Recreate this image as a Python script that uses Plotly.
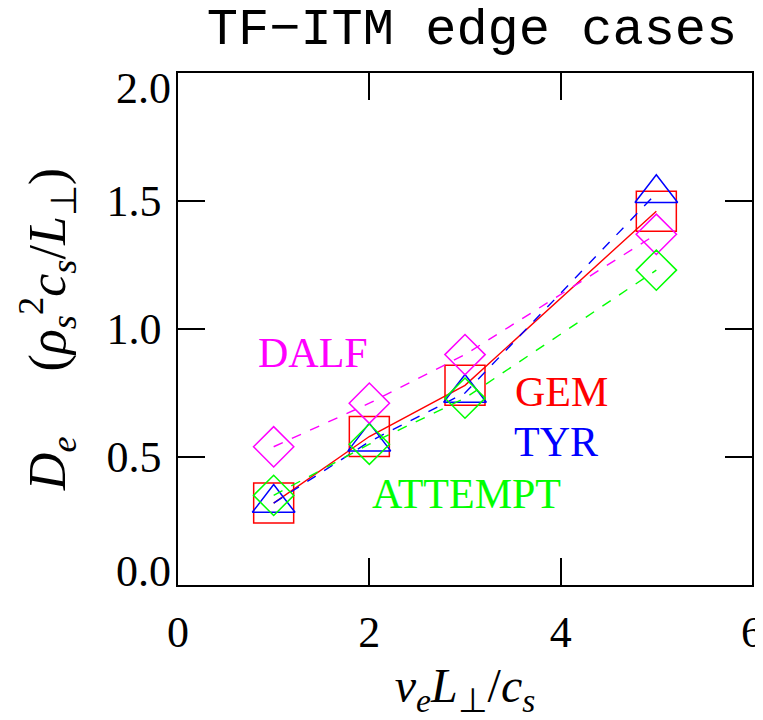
import plotly.graph_objects as go

# ---- data ----
nu = [1, 2, 3, 5]
gem = [0.32, 0.58, 0.78, 1.46]
tyr = [0.32, 0.56, 0.75, 1.53]
dalf = [0.54, 0.71, 0.90, 1.37]
attempt = [0.35, 0.55, 0.73, 1.23]

x_ticks = [0, 2, 4, 6]
y_ticks_mid = [0.5, 1.0, 1.5]
y_tick_low = [0.0]
y_tick_high = [2.0]

labels = ["DALF", "GEM", "TYR", "ATTEMPT"]
label_x = [0.82, 3.50, 3.49, 2.01]
label_y = [0.905, 0.755, 0.56, 0.355]

RED, BLUE, MAG, GRN = "#ff0000", "#0000ff", "#ff00ff", "#00ff00"
SERIF = "Liberation Serif"

fig = go.Figure()

fig.add_trace(go.Scatter(x=nu, y=gem, mode="lines+markers", name="GEM",
                         line=dict(color=RED, width=1.4),
                         marker=dict(symbol="square-open", size=40, color=RED,
                                     line=dict(color=RED, width=1.5))))
fig.add_trace(go.Scatter(x=nu, y=tyr, mode="lines+markers", name="TYR",
                         line=dict(color=BLUE, width=1.4, dash="10px,10px"),
                         marker=dict(symbol="triangle-up-open", size=37, color=BLUE,
                                     line=dict(color=BLUE, width=1.5))))
fig.add_trace(go.Scatter(x=nu, y=dalf, mode="lines+markers", name="DALF", yaxis="y2",
                         line=dict(color=MAG, width=1.4, dash="10px,10px"),
                         marker=dict(symbol="diamond-open", size=31, color=MAG,
                                     line=dict(color=MAG, width=1.5))))
fig.add_trace(go.Scatter(x=nu, y=attempt, mode="lines+markers", name="ATTEMPT", yaxis="y3",
                         line=dict(color=GRN, width=1.4, dash="10px,10px"),
                         marker=dict(symbol="diamond-open", size=31, color=GRN,
                                     line=dict(color=GRN, width=1.5))))

for txt, lx, ly, col in zip(labels, label_x, label_y, [MAG, RED, BLUE, GRN]):
    fig.add_annotation(x=lx, y=ly, xref="x", yref="y", text=txt, showarrow=False,
                       xanchor="left", yanchor="middle",
                       font=dict(family=SERIF, size=42, color=col))

axis_common = dict(showgrid=False, zeroline=False, showline=True, linecolor="black",
                   linewidth=1.5, mirror="ticks", ticks="inside", ticklen=27,
                   tickwidth=1.5, tickcolor="black", automargin=False,
                   ticklabeloverflow="allow",
                   tickfont=dict(family=SERIF, size=44, color="black"))

overlay_common = dict(range=[0, 2], overlaying="y", anchor="x", side="left",
                      ticks="", showline=False, showgrid=False, zeroline=False,
                      ticklabelstandoff=6, automargin=False, ticklabeloverflow="allow",
                      tickfont=dict(family=SERIF, size=44, color="black"))

# the page body adds an 8px offset, so the figure is slightly smaller than the window
fig.update_layout(
    width=755, height=712,
    margin=dict(l=170, r=11, t=65, b=135),
    paper_bgcolor="white", plot_bgcolor="white",
    showlegend=False,
    title=dict(text="TF\u2212ITM edge cases", x=0.6146, xref="container", xanchor="center",
               y=1.0, yref="container", yanchor="top", automargin=False,
               pad=dict(t=0, b=0, l=0, r=0),
               font=dict(family="Liberation Mono", size=52, color="black")),
    xaxis=dict(range=[0, 6], tickvals=x_ticks, ticktext=[str(v) for v in x_ticks],
               ticklabelstandoff=7,
               title=dict(text="<i>\u03bd</i><sub><i>e</i></sub><i>L</i><sub>\u22a5</sub>/<i>c</i><sub><i>s</i></sub>",
                          font=dict(family=SERIF, size=48, color="black"), standoff=13),
               **axis_common),
    yaxis=dict(range=[0, 2], tickvals=[0.0] + y_ticks_mid + [2.0],
               ticktext=[""] + [f"{v:.1f}" for v in y_ticks_mid] + [""],
               ticklabelstandoff=6,
               title=dict(text="<i>D</i><sub><i>e</i></sub>\u00a0\u00a0\u00a0\u00a0\u00a0(<i>\u03c1</i><sub><i>s</i></sub><sup>2</sup><i>c</i><sub><i>s</i></sub>/<i>L</i><sub>\u22a5</sub>)",
                          font=dict(family=SERIF, size=52, color="black"), standoff=24),
               **axis_common),
    yaxis2=dict(tickvals=y_tick_low, ticktext=[f"{v:.1f}" for v in y_tick_low],
                ticklabelshift=-14, **overlay_common),
    yaxis3=dict(tickvals=y_tick_high, ticktext=[f"{v:.1f}" for v in y_tick_high],
                ticklabelshift=15, **overlay_common),
)

fig.write_html("out.html")
